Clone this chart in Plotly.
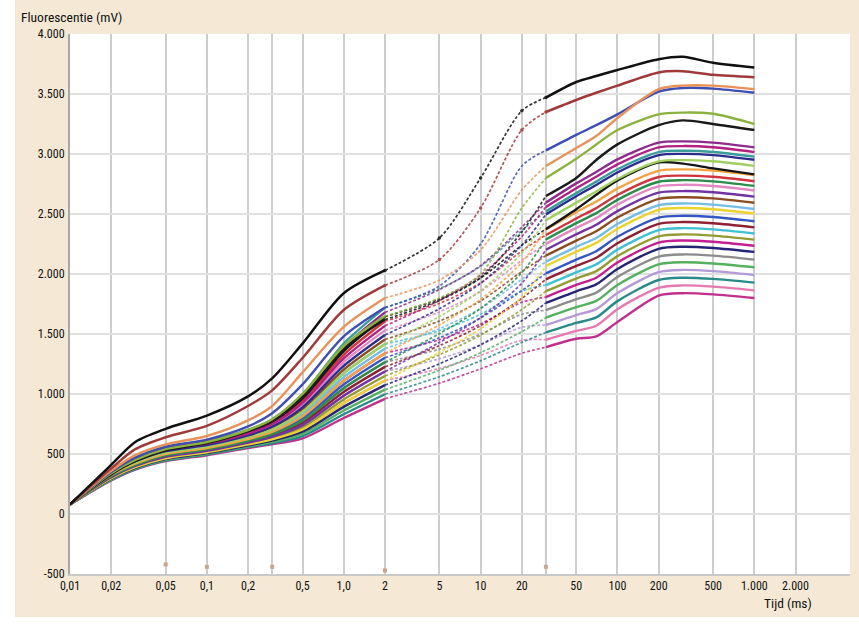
import plotly.graph_objects as go

# ---------------- data ----------------
time_ms = [0.01, 0.02, 0.03, 0.05, 0.1, 0.2, 0.3, 0.5, 1, 2, 5, 10, 20, 30,
           50, 70, 100, 200, 300, 500, 1000]

top_black   = [80, 410, 600, 710, 820, 980, 1130, 1420, 1840, 2030, 2300, 2800, 3360, 3470, 3600, 3650, 3700, 3790, 3810, 3760, 3720]
top_brown   = [80, 380, 540, 640, 735, 900, 1030, 1300, 1700, 1905, 2120, 2550, 3200, 3350, 3450, 3510, 3570, 3680, 3690, 3660, 3640]
top_orange  = [80, 360, 490, 580, 650, 780, 900, 1180, 1560, 1800, 1950, 2200, 2700, 2900, 3050, 3150, 3300, 3540, 3570, 3570, 3540]
top_blue    = [80, 350, 470, 560, 620, 730, 840, 1080, 1480, 1720, 1900, 2250, 2900, 3030, 3160, 3240, 3330, 3520, 3550, 3545, 3510]
top_green   = [80, 340, 450, 540, 600, 700, 790, 1000, 1400, 1650, 1800, 2000, 2550, 2800, 2960, 3080, 3200, 3330, 3345, 3335, 3250]
top_black2  = [80, 330, 440, 530, 590, 690, 780, 980, 1380, 1620, 1780, 1970, 2350, 2650, 2800, 2950, 3080, 3240, 3280, 3250, 3200]

s01 = [80, 365, 465, 555, 605, 690, 780, 980, 1390, 1680, 1870, 2070, 2390, 2595, 2755, 2850, 2955, 3095, 3105, 3095, 3055]
s02 = [80, 352, 450, 536, 586, 670, 748, 926, 1296, 1568, 1779, 1989, 2312, 2559, 2714, 2811, 2913, 3055, 3066, 3056, 3016]
s03 = [80, 370, 470, 560, 610, 700, 790, 1000, 1420, 1720, 1878, 2064, 2362, 2522, 2674, 2770, 2873, 3016, 3027, 3017, 2978]
s04 = [80, 343, 440, 524, 574, 655, 727, 889, 1234, 1492, 1711, 1922, 2240, 2497, 2648, 2742, 2846, 2990, 3001, 2991, 2952]
s05 = [80, 334, 430, 512, 562, 640, 706, 852, 1172, 1416, 1646, 1860, 2175, 2448, 2595, 2687, 2792, 2938, 2949, 2939, 2901]
s06 = [80, 361, 460, 548, 598, 685, 769, 963, 1358, 1644, 1792, 1967, 2240, 2374, 2540, 2660, 2780, 2930, 2920, 2880, 2830]
s07 = [80, 325, 420, 500, 550, 625, 685, 815, 1110, 1340, 1576, 1789, 2096, 2374, 2516, 2604, 2712, 2860, 2872, 2862, 2824]
s08 = [80, 357, 455, 542, 592, 678, 759, 945, 1327, 1606, 1754, 1926, 2193, 2325, 2463, 2549, 2658, 2808, 2820, 2810, 2773]
s09 = [80, 316, 410, 488, 538, 610, 664, 778, 1048, 1264, 1503, 1713, 2010, 2288, 2424, 2507, 2618, 2769, 2782, 2772, 2734]
s10 = [80, 348, 445, 530, 580, 662, 738, 908, 1265, 1530, 1684, 1855, 2114, 2251, 2384, 2466, 2578, 2730, 2743, 2733, 2696]
s11 = [80, 307, 400, 476, 526, 595, 643, 741, 986, 1188, 1430, 1637, 1923, 2202, 2331, 2411, 2524, 2678, 2691, 2681, 2645]
s12 = [80, 339, 435, 518, 568, 648, 717, 871, 1203, 1454, 1608, 1775, 2020, 2153, 2278, 2356, 2471, 2626, 2640, 2630, 2594]
s13 = [80, 330, 425, 506, 556, 632, 696, 834, 1141, 1378, 1544, 1713, 1956, 2103, 2226, 2300, 2417, 2574, 2588, 2578, 2542]
s14 = [80, 298, 390, 464, 514, 580, 622, 704, 924, 1112, 1347, 1544, 1808, 2067, 2186, 2259, 2377, 2535, 2550, 2540, 2504]
s15 = [80, 320, 415, 494, 544, 618, 675, 797, 1079, 1302, 1468, 1633, 1862, 2005, 2120, 2190, 2310, 2470, 2485, 2475, 2440]
s16 = [80, 312, 405, 482, 532, 602, 654, 760, 1017, 1226, 1403, 1570, 1797, 1956, 2067, 2135, 2256, 2418, 2433, 2423, 2389]
s17 = [80, 334, 430, 512, 562, 640, 706, 852, 1172, 1416, 1527, 1664, 1858, 1907, 2014, 2080, 2203, 2366, 2382, 2372, 2338]
s18 = [80, 302, 395, 470, 520, 588, 632, 722, 955, 1150, 1327, 1490, 1704, 1857, 1962, 2024, 2149, 2314, 2330, 2320, 2286]
s19 = [80, 325, 420, 500, 550, 625, 685, 815, 1110, 1340, 1452, 1584, 1764, 1808, 1909, 1969, 2096, 2262, 2279, 2269, 2235]
s20 = [80, 294, 385, 458, 508, 572, 612, 686, 893, 1074, 1252, 1410, 1610, 1759, 1856, 1914, 2042, 2210, 2227, 2217, 2184]
s21 = [80, 316, 410, 488, 538, 610, 664, 778, 1048, 1264, 1374, 1499, 1664, 1698, 1790, 1845, 1975, 2145, 2163, 2153, 2120]
s22 = [80, 289, 380, 452, 502, 565, 601, 667, 862, 1036, 1198, 1344, 1520, 1636, 1724, 1776, 1908, 2080, 2098, 2088, 2056]
s23 = [80, 307, 400, 476, 526, 595, 643, 741, 986, 1188, 1293, 1410, 1556, 1575, 1658, 1707, 1841, 2015, 2034, 2024, 1992]
s24 = [80, 284, 375, 446, 496, 558, 590, 649, 831, 998, 1144, 1277, 1430, 1513, 1592, 1638, 1774, 1950, 1969, 1959, 1928]
s25 = [80, 298, 390, 464, 514, 580, 622, 704, 924, 1112, 1212, 1321, 1448, 1452, 1526, 1569, 1707, 1885, 1905, 1895, 1864]
s26 = [80, 280, 370, 440, 490, 550, 580, 630, 800, 960, 1090, 1210, 1340, 1390, 1460, 1480, 1600, 1820, 1840, 1830, 1800]

series = [
    (s26, "#c0308f"), (s25, "#e67ab0"), (s24, "#2a8a8a"), (s23, "#b49ad6"),
    (s22, "#55b060"), (s21, "#8c8c8c"), (s20, "#262676"), (s19, "#c22090"),
    (s18, "#949c32"), (s17, "#40c0d0"), (s16, "#8e2034"), (s15, "#3455c4"),
    (s14, "#ecd22e"), (s13, "#74bde4"), (s12, "#8c4c22"), (s11, "#7232a2"),
    (s10, "#e488c4"), (s09, "#2c8c4c"), (s08, "#d2343e"), (s07, "#f2a444"),
    (s06, "#161616"), (s05, "#a0d060"), (s04, "#2c2c8e"), (s03, "#3c9c9c"),
    (s02, "#b22080"), (s01, "#8c2c8c"),
    (top_black2, "#1a1a1a"), (top_green, "#8db33f"), (top_blue, "#3f4fb0"),
    (top_orange, "#e8925a"), (top_brown, "#a03a3a"), (top_black, "#111111"),
]

x_tick_vals = [0.01, 0.02, 0.05, 0.1, 0.2, 0.3, 0.5, 1, 2, 5, 10, 20, 30, 50, 100, 200, 500, 1000, 2000]
x_tick_text = ["0,01", "0,02", "0,05", "0,1", "0,2", "", "0,5", "1,0", "2", "5", "10", "20", "", "50",
               "100", "200", "500", "1.000", "2.000"]
y_tick_vals = [-500, 0, 500, 1000, 1500, 2000, 2500, 3000, 3500, 4000]
y_tick_text = ["-500", "0", "500", "1.000", "1.500", "2.000", "2.500", "3.000", "3.500", "4.000"]

step_J = 2      # ms, start of the dotted part
step_I = 30     # ms, end of the dotted part (orange marker line)
marker_times = [0.05, 0.1, 0.3, 2, 30]   # small step marks at the bottom
marker_level = [-420, -440, -440, -470, -440]

# ---------------- figure ----------------
fig = go.Figure()
iJ = time_ms.index(step_J)
iI = time_ms.index(step_I)

for vals, col in series:
    is_top = vals in (top_black, top_brown)
    w = 2.5 if is_top else 2.4
    fig.add_trace(go.Scatter(x=time_ms[:iJ + 1], y=vals[:iJ + 1], mode="lines",
                             line=dict(color=col, width=w, shape="spline", smoothing=0.8),
                             hoverinfo="skip", showlegend=False))
    fig.add_trace(go.Scatter(x=time_ms[iJ:iI + 1], y=vals[iJ:iI + 1],
                             mode="lines+markers" if is_top else "lines",
                             marker=dict(size=3.5, color=col),
                             line=dict(color=col, width=1.7, dash="3px,2px", shape="spline", smoothing=0.8),
                             opacity=0.85, hoverinfo="skip", showlegend=False))
    fig.add_trace(go.Scatter(x=time_ms[iI:], y=vals[iI:], mode="lines",
                             line=dict(color=col, width=w, shape="spline", smoothing=0.8),
                             hoverinfo="skip", showlegend=False))

fig.add_trace(go.Scatter(x=marker_times, y=marker_level, mode="markers",
                         marker=dict(symbol="square", size=4, color="#c9a58c"),
                         hoverinfo="skip", showlegend=False))

W, H = 859, 625
ml, mr, mt, mb = 70, 9, 34, 51
pw, ph = W - ml - mr, H - mt - mb

shapes = [
    dict(type="line", xref="x", yref="paper", x0=step_I, x1=step_I, y0=0, y1=1,
         line=dict(color="#f0c6a4", width=2), layer="below"),
    dict(type="rect", xref="paper", yref="paper", x0=-ml / pw - 0.05, x1=-(ml - 15) / pw, y0=-1, y1=2,
         fillcolor="white", line=dict(width=0), layer="above"),
    dict(type="rect", xref="paper", yref="paper", x0=-1, x1=2, y0=-(H - mt - ph) / ph - 0.2,
         y1=-(617 - mt - ph) / ph, fillcolor="white", line=dict(width=0), layer="above"),
]

font_main = "Liberation Sans Narrow, Roboto Condensed, Roboto, sans-serif"

fig.update_layout(
    width=W, height=H,
    margin=dict(l=ml, r=mr, t=mt, b=mb),
    paper_bgcolor="#F5E9D6",
    plot_bgcolor="white",
    font=dict(family=font_main, size=12, color="#111111"),
    shapes=shapes,
    annotations=[
        dict(text="Fluorescentie (mV)", xref="paper", yref="paper", x=-51 / pw, y=1 + 17 / ph,
             xanchor="left", yanchor="middle", showarrow=False,
             font=dict(family=font_main, size=13.5, color="#111111")),
        dict(text="Tijd (ms)", xref="paper", yref="paper", x=(814 - ml) / pw, y=-(603 - mt - ph) / ph,
             xanchor="right", yanchor="middle", showarrow=False,
             font=dict(family=font_main, size=13.5, color="#111111")),
    ],
    xaxis=dict(type="log", range=[-2, 3.699], tickvals=x_tick_vals, ticktext=x_tick_text,
               showgrid=True, gridcolor="#cdcdcd", gridwidth=2,
               showline=True, linecolor="#c8c8c8", linewidth=2,
               ticks="", ticklabelstandoff=0, zeroline=False,
               tickfont=dict(family=font_main, size=12, color="#111111")),
    yaxis=dict(range=[-500, 4000], tickvals=y_tick_vals, ticktext=y_tick_text,
               showgrid=True, gridcolor="#e0e0e0", gridwidth=2,
               showline=True, linecolor="#a8a8a8", linewidth=2,
               ticks="", ticklabelstandoff=1, zeroline=False,
               tickfont=dict(family=font_main, size=12, color="#111111")),
)

fig.write_html("out.html", config={"displayModeBar": False},
               post_script="document.body.style.margin='0';")
